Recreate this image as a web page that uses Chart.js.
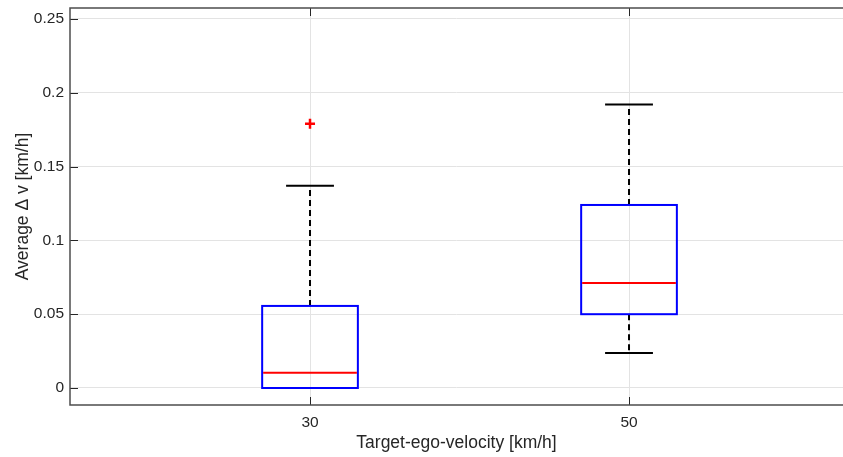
<!DOCTYPE html>
<html>
<head>
<meta charset="utf-8">
<script src="https://cdn.jsdelivr.net/npm/chart.js@4.4.0/dist/chart.umd.min.js"></script>
<style>
  html, body { margin: 0; padding: 0; background: #fff; }
  #wrap { width: 843px; height: 457px; }
</style>
</head>
<body>
<div id="wrap"><canvas id="myChart" width="843" height="457"></canvas></div>
<script>
/* datos del boxplot */
const categories = ['30', '50'];
const positions = [1, 2];
const q1 = [0, 0.050];
const median = [0.0104, 0.0711];
const q3 = [0.0556, 0.124];
const whiskerLow = [0, 0.0237];
const whiskerHigh = [0.137, 0.192];
const outliers = [[0.179], []];
const yTicks = [0, 0.05, 0.1, 0.15, 0.2, 0.25];

const boxHalf = 0.15;
const capHalf = 0.075;

const outlierPoints = [];
outliers.forEach((list, i) => list.forEach(v => outlierPoints.push({ x: positions[i], y: v })));

// dibuja cajas, bigotes y marco usando las escalas del chart
const boxPlugin = {
  id: 'boxPlugin',
  beforeDatasetsDraw(chart) {
    const { ctx, scales: { x, y } } = chart;
    const area = chart.chartArea;
    ctx.save();
    ctx.beginPath();
    ctx.rect(area.left, area.top, area.right - area.left, area.bottom - area.top);
    ctx.clip();

    positions.forEach((p, i) => {
      const cx = x.getPixelForValue(p);
      const left = x.getPixelForValue(p - boxHalf);
      const right = x.getPixelForValue(p + boxHalf);
      const capL = x.getPixelForValue(p - capHalf);
      const capR = x.getPixelForValue(p + capHalf);

      // bigotes punteados
      ctx.strokeStyle = '#000';
      ctx.lineWidth = 2;
      ctx.setLineDash([6, 4]);
      ctx.beginPath();
      ctx.moveTo(cx, y.getPixelForValue(q3[i]));
      ctx.lineTo(cx, y.getPixelForValue(whiskerHigh[i]));
      ctx.moveTo(cx, y.getPixelForValue(q1[i]));
      ctx.lineTo(cx, y.getPixelForValue(whiskerLow[i]));
      ctx.stroke();
      ctx.setLineDash([]);

      // topes
      ctx.beginPath();
      ctx.moveTo(capL, y.getPixelForValue(whiskerHigh[i]));
      ctx.lineTo(capR, y.getPixelForValue(whiskerHigh[i]));
      ctx.moveTo(capL, y.getPixelForValue(whiskerLow[i]));
      ctx.lineTo(capR, y.getPixelForValue(whiskerLow[i]));
      ctx.stroke();

      // caja
      ctx.strokeStyle = '#0000ff';
      ctx.lineWidth = 2;
      const top = y.getPixelForValue(q3[i]);
      const bot = y.getPixelForValue(q1[i]);
      ctx.strokeRect(left, top, right - left, bot - top);

      // mediana
      ctx.strokeStyle = '#ff0000';
      ctx.beginPath();
      ctx.moveTo(left + 1, y.getPixelForValue(median[i]));
      ctx.lineTo(right - 1, y.getPixelForValue(median[i]));
      ctx.stroke();
    });
    ctx.restore();
  },
  afterDraw(chart) {
    const { ctx, scales: { x, y } } = chart;
    const area = chart.chartArea;
    ctx.save();
    ctx.strokeStyle = '#262626';
    ctx.lineWidth = 1;
    // ticks hacia adentro
    ctx.beginPath();
    yTicks.forEach(v => {
      const py = Math.round(y.getPixelForValue(v)) + 0.5;
      ctx.moveTo(area.left, py);
      ctx.lineTo(area.left + 8, py);
    });
    positions.forEach(p => {
      const px = Math.round(x.getPixelForValue(p)) + 0.5;
      ctx.moveTo(px, area.top);
      ctx.lineTo(px, area.top + 8);
      ctx.moveTo(px, area.bottom);
      ctx.lineTo(px, area.bottom - 8);
    });
    ctx.stroke();
    // marco
    ctx.strokeStyle = '#4d4d4d';
    ctx.lineWidth = 1.5;
    ctx.beginPath();
    ctx.moveTo(area.right + 20, area.top);
    ctx.lineTo(area.left, area.top);
    ctx.lineTo(area.left, area.bottom);
    ctx.lineTo(area.right + 20, area.bottom);
    ctx.stroke();
    ctx.restore();
  }
};

function noPad(s) {
  s.paddingLeft = 0;
  s.paddingRight = 0;
  s.paddingTop = 0;
  s.paddingBottom = 0;
}

const ctx = document.getElementById('myChart').getContext('2d');

let chart = new Chart(ctx, {
  type: 'scatter',
  data: {
    datasets: [{
      label: 'outliers',
      data: outlierPoints,
      pointStyle: 'cross',
      radius: 5,
      borderColor: '#ff0000',
      borderWidth: 2.5,
      backgroundColor: '#ff0000'
    }]
  },
  options: {
    responsive: false,
    animation: false,
    layout: { autoPadding: false, padding: { top: 8, right: 0, left: 0, bottom: 0 } },
    plugins: { legend: { display: false }, tooltip: { enabled: false } },
    scales: {
      x: {
        type: 'linear',
        min: 0.2476,
        max: 2.6708,
        afterBuildTicks: s => { s.ticks = positions.map(v => ({ value: v })); },
        afterFit: s => { s.height = 52; noPad(s); },
        ticks: {
          callback: v => categories[positions.indexOf(v)],
          color: '#262626',
          font: { family: 'Liberation Sans', size: 15.5 },
          padding: 8,
          maxRotation: 0
        },
        grid: { color: '#e3e3e3', drawTicks: false, lineWidth: 1 },
        border: { display: false },
        title: {
          display: true,
          text: 'Target-ego-velocity [km/h]',
          color: '#262626',
          font: { family: 'Liberation Sans', size: 17.5 },
          padding: { top: 0, bottom: 3 }
        }
      },
      y: {
        min: -0.01152,
        max: 0.25745,
        afterBuildTicks: s => { s.ticks = yTicks.map(v => ({ value: v })); },
        afterFit: s => { s.width = 70; noPad(s); },
        ticks: {
          callback: v => String(v),
          color: '#262626',
          font: { family: 'Liberation Sans', size: 15.5 },
          padding: 6
        },
        grid: { color: '#e3e3e3', drawTicks: false, lineWidth: 1 },
        border: { display: false },
        title: {
          display: true,
          text: 'Average \u0394 v [km/h]',
          color: '#262626',
          font: { family: 'Liberation Sans', size: 17.5 },
          padding: { top: 13, bottom: 0 }
        }
      }
    }
  },
  plugins: [boxPlugin]
});
</script>
</body>
</html>
